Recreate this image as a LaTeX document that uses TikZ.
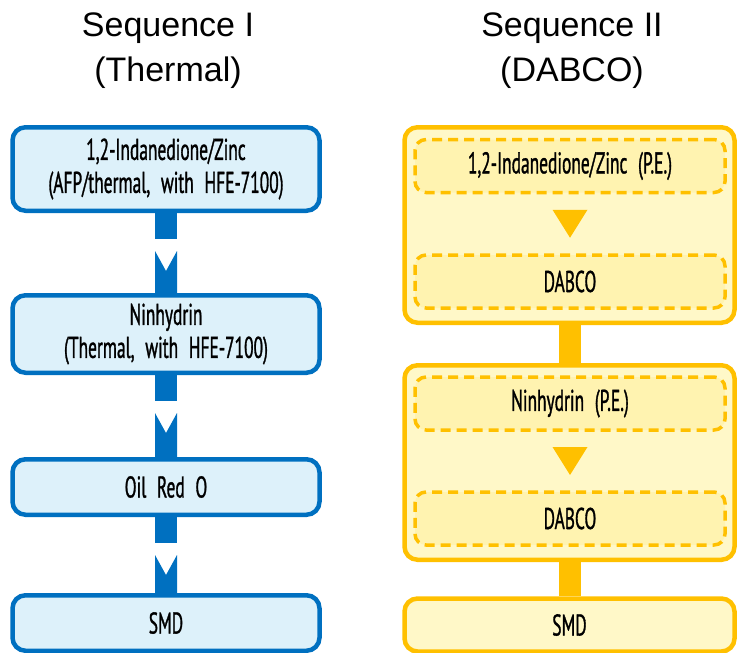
\documentclass[tikz,border=0pt]{standalone}
\usepackage{fontspec}
\setmainfont{Liberation Sans}
\newfontfamily\boxfont[FakeStretch=0.58,FakeBold=1,WordSpace=2.3]{PT Sans}
\usetikzlibrary{calc}
\definecolor{bstroke}{HTML}{0070C0}
\definecolor{bfill}{HTML}{DDF1FA}
\definecolor{ystroke}{HTML}{FFC000}
\definecolor{yfill}{HTML}{FFF8C8}
\definecolor{yinner}{HTML}{FFF3B0}
\tikzset{
  titletext/.style={font=\fontsize{34}{45}\selectfont, align=center, text=black},
  boxtext/.style={font=\boxfont\fontsize{30}{33}\selectfont},
  bluebox/.style={draw=bstroke, fill=bfill, line width=4.5pt, rounded corners=13pt,
    minimum width=307pt, align=center, boxtext, inner sep=0pt},
  yellowouter/.style={draw=ystroke, fill=yfill, line width=4.5pt, rounded corners=13pt,
    minimum width=330pt, inner sep=0pt},
  yellowinner/.style={draw=ystroke, fill=yinner, line width=3.5pt, dash pattern=on 10pt off 6pt,
    rounded corners=11pt, minimum width=310pt, minimum height=53pt, align=center,
    boxtext, inner sep=0pt},
  yellowbox/.style={draw=ystroke, fill=yfill, line width=4.5pt, rounded corners=13pt,
    minimum width=330pt, align=center, boxtext, inner sep=0pt},
  bluefill/.style={fill=bstroke},
  yellowfill/.style={fill=ystroke}
}
\newcommand\bluestep[2]{%
  \fill[bluefill] ($(#1.south)+(-11,0)$) rectangle ($(#1.south)+(11,26)$);
  \fill[bluefill] ($(#1.south)+(-11,38)$) -- ($(#1.south)+(0,58)$) -- ($(#1.south)+(11,38)$)
     -- ($(#2.north)+(11,0)$) -- ($(#2.north)+(-11,0)$) -- cycle;}
\newcommand\yellowtri[2]{%
  \fill[yellowfill] ($(#1.south)!0.5!(#2.north)+(-17.5,-14)$) -- ($(#1.south)!0.5!(#2.north)+(17.5,-14)$)
     -- ($(#1.south)!0.5!(#2.north)+(0,14)$) -- cycle;}
\newcommand\yellowstem[2]{%
  \fill[yellowfill] ($(#1.south)+(-11,0)$) rectangle ($(#2.north)+(11,0)$);}
\begin{document}
\begin{tikzpicture}[x=1pt,y=-1pt]
\useasboundingbox (0,0) rectangle (739,653);
% titles
\node[titletext] (t1) at (168,51) {Sequence I\\(Thermal)};
\node[titletext] (t2) at (572,51) {Sequence II\\(DABCO)};
% left column
\node[bluebox, minimum height=83.5pt] (b1) at (166,169) {1,2-Indanedione/Zinc\\(AFP/thermal, with HFE-7100)};
\node[bluebox, minimum height=77.5pt] (b2) at (166,334) {Ninhydrin\\(Thermal, with HFE-7100)};
\node[bluebox, minimum height=55.5pt] (b3) at (166,487) {Oil Red O};
\node[bluebox, minimum height=55.5pt] (b4) at (166,623) {SMD};
\bluestep{b1}{b2}
\bluestep{b2}{b3}
\bluestep{b3}{b4}
% right column
\node[yellowouter, minimum height=195.5pt] (o1) at (569.5,225) {};
\node[yellowinner] (d1) at (570,166) {1,2-Indanedione/Zinc (P.E.)};
\node[yellowinner] (d2) at (570,281.5) {DABCO};
\yellowtri{d1}{d2}
\node[yellowouter, minimum height=194.5pt] (o2) at (569.5,462.5) {};
\node[yellowinner] (d3) at (570,403.5) {Ninhydrin (P.E.)};
\node[yellowinner] (d4) at (570,518.5) {DABCO};
\yellowtri{d3}{d4}
\node[yellowbox, minimum height=53pt] (s2) at (569.5,625) {SMD};
\yellowstem{o1}{o2}
\yellowstem{o2}{s2}
\end{tikzpicture}
\end{document}
